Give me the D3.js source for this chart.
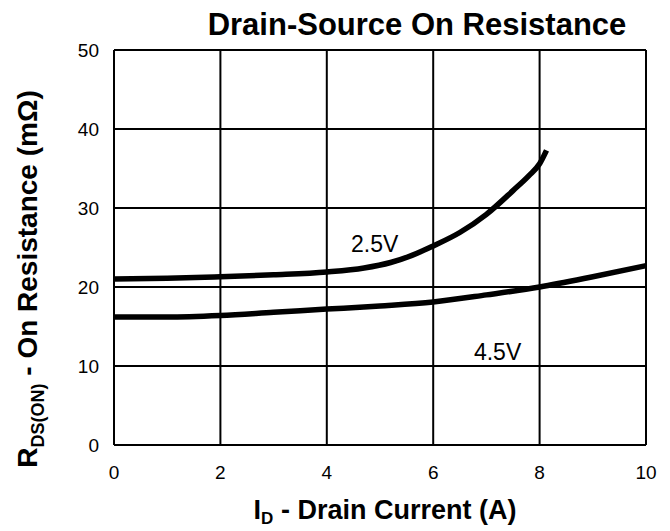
<!DOCTYPE html>
<html>
<head>
<meta charset="utf-8">
<script src="https://cdn.jsdelivr.net/npm/d3@7"></script>
<style>
  body { margin: 0; background: #fff; }
  text { font-family: "Liberation Sans", Arial, sans-serif; fill: #000; }
</style>
</head>
<body>
<div id="chart"></div>
<script>
// data
const xTicks = [0, 2, 4, 6, 8, 10];
const yTicks = [0, 10, 20, 30, 40, 50];

const id25 = [0, 1, 2, 3, 4, 4.7, 5.2, 5.6, 6, 6.5, 7, 7.5, 7.8, 8, 8.13];
const rds25 = [21.0, 21.1, 21.3, 21.55, 21.9, 22.4, 23.1, 24.0, 25.2, 26.9, 29.2, 32.2, 34.1, 35.6, 37.3];

const id45 = [0, 1, 2, 3, 4, 5, 6, 7, 8, 9, 10];
const rds45 = [16.2, 16.2, 16.4, 16.8, 17.2, 17.6, 18.1, 19.0, 20.0, 21.3, 22.7];

const curves = [
  { name: "2.5V", xs: id25, ys: rds25, lx: 4.9, ly: 25.5 },
  { name: "4.5V", xs: id45, ys: rds45, lx: 7.21, ly: 11.8 }
];

const width = 670, height = 531;
const margin = { left: 114, right: 24, top: 50, bottom: 86 };

const svg = d3.select("#chart").append("svg")
    .attr("width", width)
    .attr("height", height);

const x = d3.scaleLinear().domain([0, 10]).range([margin.left, width - margin.right]);
const y = d3.scaleLinear().domain([0, 50]).range([height - margin.bottom, margin.top]);

// grid
svg.append("g")
    .selectAll("line")
    .data(xTicks)
    .enter().append("line")
    .attr("x1", d => x(d)).attr("x2", d => x(d))
    .attr("y1", y(0)).attr("y2", y(50))
    .attr("stroke", "#000").attr("stroke-width", 2);

svg.append("g")
    .selectAll("line")
    .data(yTicks)
    .enter().append("line")
    .attr("x1", x(0)).attr("x2", x(10))
    .attr("y1", d => y(d)).attr("y2", d => y(d))
    .attr("stroke", "#000").attr("stroke-width", 2);

// tick labels
svg.append("g")
    .selectAll("text")
    .data(xTicks)
    .enter().append("text")
    .attr("x", d => x(d))
    .attr("y", y(0) + 34)
    .attr("text-anchor", "middle")
    .style("font-size", "19px")
    .text(d => d);

svg.append("g")
    .selectAll("text")
    .data(yTicks)
    .enter().append("text")
    .attr("x", x(0) - 15)
    .attr("y", d => y(d))
    .attr("dy", "0.35em")
    .attr("text-anchor", "end")
    .style("font-size", "19px")
    .text(d => d);

// curves
const line = d3.line()
    .x(d => x(d[0]))
    .y(d => y(d[1]))
    .curve(d3.curveMonotoneX);

curves.forEach(c => {
    const pts = c.xs.map((v, i) => [v, c.ys[i]]);
    svg.append("path")
        .datum(pts)
        .attr("d", line)
        .attr("fill", "none")
        .attr("stroke", "#000")
        .attr("stroke-width", 5.5)
        .attr("stroke-linecap", "butt");

    svg.append("text")
        .attr("x", x(c.lx))
        .attr("y", y(c.ly))
        .attr("text-anchor", "middle")
        .attr("dy", "0.35em")
        .style("font-size", "23px")
        .text(c.name);
});

// title
svg.append("text")
    .attr("x", 417)
    .attr("y", 35)
    .attr("text-anchor", "middle")
    .style("font-size", "31px")
    .style("font-weight", "bold")
    .text("Drain-Source On Resistance");

// x axis title
const xt = svg.append("text")
    .attr("x", 385)
    .attr("y", 519)
    .attr("text-anchor", "middle")
    .style("font-size", "27px")
    .style("font-weight", "bold");
xt.append("tspan").text("I");
xt.append("tspan").attr("dy", 5).style("font-size", "17px").text("D");
xt.append("tspan").attr("dy", -5).text(" - Drain Current (A)");

// y axis title
const yt = svg.append("text")
    .attr("transform", `translate(37,279) rotate(-90)`)
    .attr("text-anchor", "middle")
    .style("font-size", "28px")
    .style("font-weight", "bold");
yt.append("tspan").text("R");
yt.append("tspan").attr("dy", 7).style("font-size", "18px").text("DS(ON)");
yt.append("tspan").attr("dy", -7).text(" - On Resistance (mΩ)");
</script>
</body>
</html>
